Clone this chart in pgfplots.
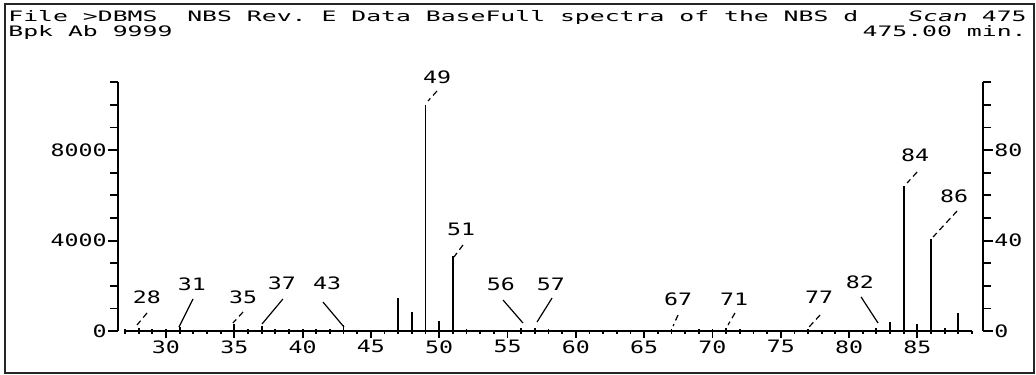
\documentclass[border=0pt]{standalone}
\usepackage{pgfplots}
\usepackage{pgfplotstable}
\pgfplotsset{compat=1.18}
\usepackage{fontspec}
\frenchspacing
% wide monospaced "plotter" lettering
\newfontfamily\plotfont[FakeStretch=1.36]{DejaVu Sans Mono}
\newfontfamily\headfont[FakeStretch=1.72]{DejaVu Sans Mono}
\newfontfamily\headslant[FakeStretch=1.72,FakeSlant=0.2]{DejaVu Sans Mono}
\newcommand\dig{\fontsize{8.55pt}{10pt}\plotfont}
\newcommand\hdr{\fontsize{7.2pt}{9pt}\headfont}
\newcommand\hdrsl{\fontsize{7.2pt}{9pt}\headslant}

% m/z and abundance (base peak = 9999)
\pgfplotstableread{
mz ab
27 100
28 150
29 100
30 100
31 180
35 300
36 100
37 220
38 100
39 100
40 100
41 100
42 100
43 250
47 1470
48 850
49 9999
50 440
51 3300
52 100
56 120
57 130
58 100
67 100
69 100
70 100
71 120
72 100
77 110
82 140
83 380
84 6400
85 320
86 4050
87 150
88 800
}\spectrum

\begin{document}
\begin{tikzpicture}
\useasboundingbox (0pt,0pt) rectangle (518pt,187pt);
\draw[line width=0.8pt,black!85] (2.5pt,0.5pt) rectangle (517pt,185pt);

% header lines
\node[anchor=base west,inner sep=0pt,font=\hdr] at (4pt,176.25pt) {File >DBMS\ \ NBS Rev. E Data BaseFull spectra of the NBS d};
\node[anchor=base west,inner sep=0pt,font=\hdr] at (4pt,168.5pt) {Bpk Ab 9999};
\node[anchor=base east,inner sep=0pt,font=\hdr] at (513.5pt,176.25pt) {{\hdrsl Scan} 475};
\node[anchor=base east,inner sep=0pt,font=\hdr] at (513.5pt,168.5pt) {475.00 min.};

% spectrum with m/z axis
\begin{axis}[
  at={(62.5pt,21.5pt)}, anchor=south west,
  scale only axis, width=423.5pt, height=124.3pt,
  xmin=27, xmax=89, ymin=0, ymax=11000,
  axis x line*=bottom, axis y line=none,
  axis line style={line width=1pt,-},
  xtick={30,35,...,85},
  xticklabels={30,35,40,45,50,55,60,65,70,75,80,85},
  minor xtick={27,...,89},
  tick align=outside, major tick length=3.5pt, minor tick length=1.5pt,
  tick style={line width=0.9pt,black},
  xticklabel style={font=\dig,inner sep=1pt},
  scaled x ticks=false,
  clip=false,
]
\addplot[ycomb, black, line width=0.9pt, mark=none] table[x=mz,y=ab] {\spectrum};

% peak labels with leader lines
\begin{scope}[every node/.style={font=\dig,inner sep=0pt}]
\node at (axis cs:28.61,1505) {28};
\node at (axis cs:31.90,2080) {31};
\node at (axis cs:35.64,1505) {35};
\node at (axis cs:38.49,2124) {37};
\node at (axis cs:41.79,2124) {43};
\node at (axis cs:49.84,11240) {49};
\node at (axis cs:51.60,4514) {51};
\node at (axis cs:54.52,2080) {56};
\node at (axis cs:58.18,2080) {57};
\node at (axis cs:67.48,1416) {67};
\node at (axis cs:71.58,1416) {71};
\node at (axis cs:77.80,1505) {77};
\node at (axis cs:80.80,2168) {82};
\node at (axis cs:84.83,7788) {84};
\node at (axis cs:87.69,5974) {86};
\end{scope}
\begin{scope}[line width=0.6pt]
\draw[densely dashed] (axis cs:28.61,797) -- (axis cs:27.88,266);
\draw (axis cs:31.98,1416) -- (axis cs:30.95,177);
\draw[densely dashed] (axis cs:35.64,841) -- (axis cs:34.90,354);
\draw (axis cs:38.56,1416) -- (axis cs:37.03,310);
\draw (axis cs:41.49,1283) -- (axis cs:43.03,177);
\draw[densely dashed] (axis cs:49.84,10620) -- (axis cs:49.18,10178);
\draw[densely dashed] (axis cs:51.74,3806) -- (axis cs:51.08,3275);
\draw (axis cs:54.67,1372) -- (axis cs:56.13,354);
\draw (axis cs:58.26,1460) -- (axis cs:57.16,398);
\draw[densely dashed] (axis cs:67.48,708) -- (axis cs:67.12,221);
\draw[densely dashed] (axis cs:71.65,797) -- (axis cs:71.14,266);
\draw[densely dashed] (axis cs:77.88,708) -- (axis cs:77.07,177);
\draw (axis cs:80.88,1505) -- (axis cs:82.12,354);
\draw[densely dashed] (axis cs:84.98,7036) -- (axis cs:84.25,6549);
\draw[densely dashed] (axis cs:87.91,5310) -- (axis cs:86.15,4160);
\end{scope}
\end{axis}

% abundance scale (left)
\begin{axis}[
  at={(59pt,21.5pt)}, anchor=south west,
  scale only axis, width=10pt, height=124.3pt,
  xmin=0, xmax=1, ymin=0, ymax=11000,
  axis y line*=left, axis x line=none, xtick=\empty,
  axis line style={line width=1pt,-},
  ytick={0,4000,8000}, yticklabels={0,4000,8000},
  minor ytick={1000,2000,3000,5000,6000,7000,9000,10000,11000},
  scaled y ticks=false,
  tick align=outside, major tick length=5pt, minor tick length=4pt,
  tick style={line width=0.9pt,black},
  yticklabel style={font=\dig,inner sep=0.5pt},
]
\end{axis}

% relative abundance scale (right, percent)
\begin{axis}[
  at={(491.5pt,21.5pt)}, anchor=south east,
  scale only axis, width=10pt, height=124.3pt,
  xmin=0, xmax=1, ymin=0, ymax=11000,
  axis y line*=right, axis x line=none, xtick=\empty,
  axis line style={line width=1pt,-},
  ytick={0,4000,8000}, yticklabels={0,40,80},
  minor ytick={1000,2000,3000,5000,6000,7000,9000,10000,11000},
  scaled y ticks=false,
  tick align=outside, major tick length=5pt, minor tick length=4pt,
  tick style={line width=0.9pt,black},
  yticklabel style={font=\dig,inner sep=0.5pt},
]
\end{axis}
\end{tikzpicture}
\end{document}
